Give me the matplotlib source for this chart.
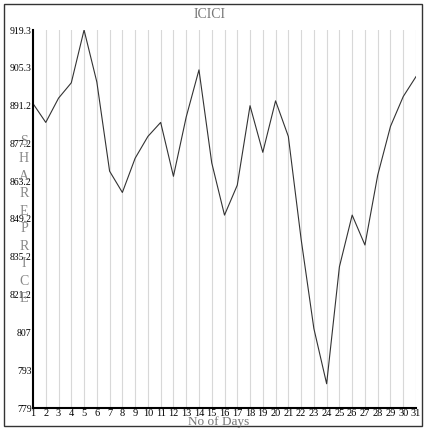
import matplotlib
matplotlib.use("Agg")
import matplotlib.pyplot as plt

days = list(range(1, 32))
prices = [892, 885, 894, 899.7, 919.3, 900, 866.9, 859, 871.7, 879.8, 885, 865, 887,
          904.5, 870, 850.6, 861.7, 891.2, 873.9, 893, 879.8, 841.7, 808.5, 788, 831.4,
          850.6, 839.5, 865.4, 883.5, 894.6, 902]
yticks = [779, 793, 807, 821.2, 835.2, 849.2, 863.2, 877.2, 891.2, 905.3, 919.3]
ytick_labels = ["779", "793", "807", "821.2", "835.2", "849.2", "863.2", "877.2", "891.2", "905.3", "919.3"]

plt.rcParams['font.family'] = ['Liberation Serif', 'DejaVu Serif']
fig = plt.figure(figsize=(4.26, 4.29), dpi=100)
fig.patches.append(plt.Rectangle((4/426, 3/429), 418/426, 422/429, transform=fig.transFigure,
                                 fill=False, edgecolor='#333333', linewidth=1))
ax = fig.add_axes([33/426, 1 - 408/429, 383/426, 378/429])
ax.plot(days, prices, color='#333333', linewidth=0.8)
ax.set_xlim(1, 31)
ax.set_ylim(779, 919.3)
ax.set_xticks(days)
ax.set_xticklabels([str(d) for d in days], fontsize=7.5)
ax.set_yticks(yticks)
ax.set_yticklabels(ytick_labels, fontsize=7)
ax.tick_params(length=0, pad=1)
ax.xaxis.grid(True, color='#d8d8d8', linewidth=0.8)
for s in ['top', 'right']:
    ax.spines[s].set_visible(False)
ax.spines['left'].set_linewidth(1.5)
ax.spines['bottom'].set_linewidth(1.5)
fig.text(219/426, 1 - 425/429, "No of Days", fontsize=9.5, color='#777777', ha='center', va='baseline')
fig.text(210/426, 1 - 14/429, "ICICI", fontsize=10, color='#777777', ha='center', va='center')
fig.text(24/426, 1 - 220/429, "\n".join("SHARE PRICE".replace(" ", "")), fontsize=10,
         color='#888888', ha='center', va='center', linespacing=1.45)
fig.savefig("out.png", dpi=100)
